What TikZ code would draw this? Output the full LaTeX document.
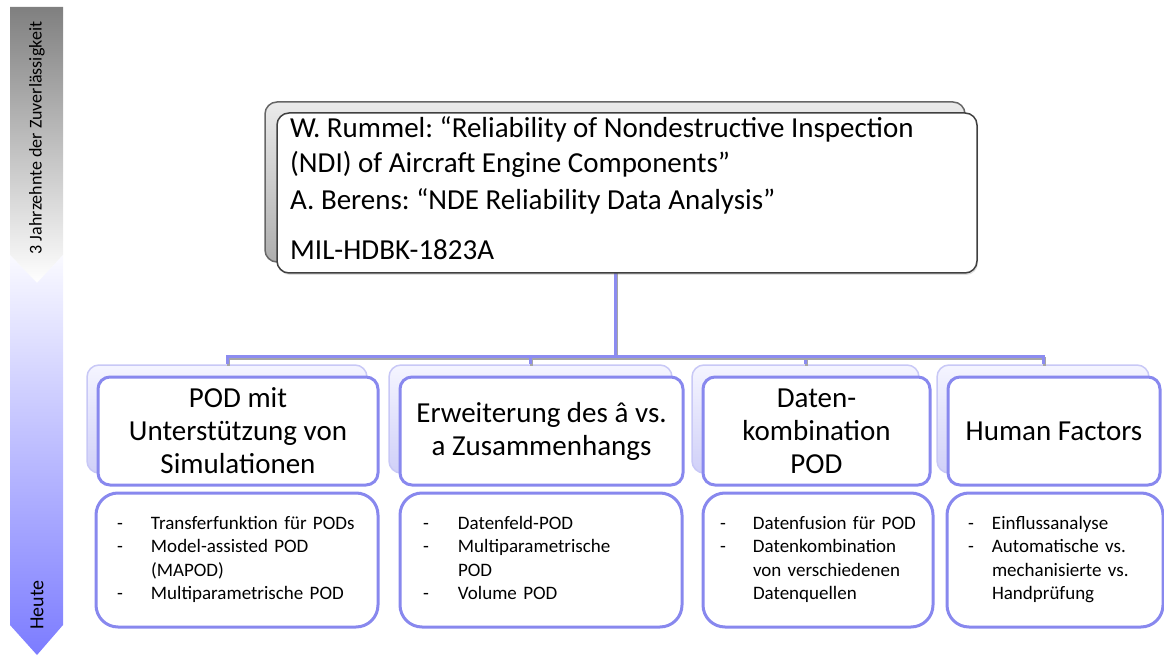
\documentclass[tikz,border=0pt]{standalone}
\usepackage{fontspec}
\setmainfont{Carlito}
\usetikzlibrary{calc,shadows}
\frenchspacing

\definecolor{linkblue}{RGB}{140,140,240}
\definecolor{boxblue}{RGB}{136,136,238}
\definecolor{backblue}{RGB}{208,208,248}
\definecolor{backedge}{RGB}{200,200,246}
\definecolor{topedge}{RGB}{64,64,64}
\definecolor{nowblue}{RGB}{124,124,255}

\tikzset{
  refbox/.style={draw=topedge, line width=1.5pt, fill=white, rounded corners=12pt,
    minimum width=700pt, minimum height=160pt},
  refback/.style={draw=black!60, line width=1.5pt, rounded corners=12pt,
    top color=black!8, bottom color=black!32, minimum width=700pt, minimum height=160pt},
  headbox/.style={draw=boxblue, line width=3pt, fill=white, rounded corners=12pt,
    minimum height=108pt, align=center, font=\fontsize{29}{33}\selectfont},
  headback/.style={draw=backedge, line width=1.5pt, rounded corners=12pt,
    top color=blue!4, bottom color=backblue, minimum height=108pt},
  listbox/.style={draw=boxblue, line width=3pt, fill=white, rounded corners=22pt,
    minimum height=134pt, inner xsep=0pt, align=left, font=\fontsize{19}{23.5}\selectfont},
  link/.style={draw=linkblue, line width=3pt,
    preaction={draw=black!35, line width=3pt, transform canvas={xshift=1pt,yshift=-2pt}}},
}

\begin{document}
\begin{tikzpicture}[x=1pt,y=-1pt]
\useasboundingbox (0,0) rectangle (1164,660);

% time line on the left
\shade[top color=black!50, bottom color=white] (10,7) -- (63,7) -- (63,255) -- (37,283) -- (10,255) -- cycle;
\shade[top color=blue!2, bottom color=nowblue] (10,255) -- (37,283) -- (63,255) -- (63,625) -- (37,655) -- (10,625) -- cycle;
\node[rotate=90, font=\fontsize{18}{22}\selectfont] (era) at (37,138) {3 Jahrzehnte der Zuverlässigkeit};
\node[rotate=90, font=\fontsize{20}{24}\selectfont] (today) at (37,605) {Heute};

% shadow boxes of the second row
\foreach \n/\x/\w in {1/238/280, 2/541.5/283, 3/816.5/227, 4/1054/212}
  \node[headback, minimum width=\w pt] (back\n) at (\x-11,419) {};

% top box
\node[refback] (refsback) at (615,182) {};
\foreach \n in {1,...,4}
  \draw[link] (refsback.south) |- ($(back\n.north)+(0,-8)$) -- (back\n.north);
\node[refbox, drop shadow={opacity=0.25, shadow xshift=1pt, shadow yshift=-2pt}] (refs) at (627,193) {};
\node[anchor=base west, align=left, inner sep=0pt, font=\fontsize{29}{35}\selectfont] (refstext) at (290,260)
  {W. Rummel: “Reliability of Nondestructive Inspection\\
   (NDI) of Aircraft Engine Components”\\[2pt]
   A. Berens: “NDE Reliability Data Analysis”\\[15pt]
   MIL-HDBK-1823A};

% second row
\node[headbox, minimum width=280pt] (sim) at (238,431) {POD mit\\Unterstützung von\\Simulationen};
\node[headbox, minimum width=283pt] (ahat) at (541.5,431) {Erweiterung des â vs.\\a Zusammenhangs};
\node[headbox, minimum width=227pt] (comb) at (816.5,431) {Daten-\\kombination\\POD};
\node[headbox, minimum width=212pt] (human) at (1054,431) {Human Factors};

% third row
\node[listbox, minimum width=282pt, text width=282pt] (simlist) at (237,560)
  {\noindent\hspace*{21pt}\begin{tabular}{@{}p{34pt}@{}l@{}}
   -&Transferfunktion für PODs\\ -&Model-assisted POD\\ &(MAPOD)\\ -&Multiparametrische POD\end{tabular}};
\node[listbox, minimum width=282pt, text width=282pt] (ahatlist) at (541,560)
  {\noindent\hspace*{23pt}\begin{tabular}{@{}p{35pt}@{}l@{}}
   -&Datenfeld-POD\\ -&Multiparametrische\\ &POD\\ -&Volume POD\end{tabular}};
\node[listbox, minimum width=230pt, text width=230pt] (comblist) at (818,560)
  {\noindent\hspace*{17pt}\begin{tabular}{@{}p{33pt}@{}l@{}}
   -&Datenfusion für POD\\ -&Datenkombination\\ &von verschiedenen\\ &Datenquellen\end{tabular}};
\node[listbox, minimum width=216pt, text width=216pt] (humanlist) at (1055,560)
  {\noindent\hspace*{21pt}\begin{tabular}{@{}p{24pt}@{}l@{}}
   -&Einflussanalyse\\ -&Automatische vs.\\ &mechanisierte vs.\\ &Handprüfung\end{tabular}};
\end{tikzpicture}
\end{document}
